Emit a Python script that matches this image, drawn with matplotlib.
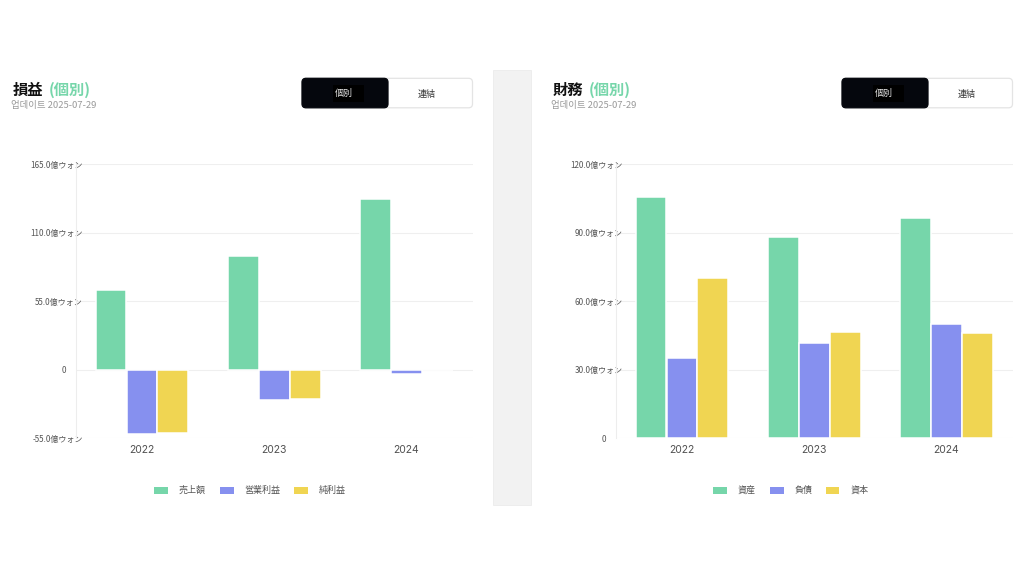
import matplotlib
matplotlib.use("Agg")
import matplotlib.pyplot as plt
from matplotlib.patches import FancyBboxPatch, Rectangle
import numpy as np

plt.rcParams['font.family'] = ['Inter', 'Noto Sans CJK JP', 'DejaVu Sans']

# ---------------- data ----------------
years = ['2022', '2023', '2024']

pl_names = ['売上額', '営業利益', '純利益']
sales = [64.2, 91.7, 137.2]
op_profit = [-51.6, -24.3, -3.2]
net_profit = [-50.5, -23.5, -0.4]
pl_ticks = [-55, 0, 55, 110, 165]

bs_names = ['資産', '負債', '資本']
assets = [105.8, 88.3, 96.3]
liabilities = [35.2, 41.7, 50.1]
equity = [70.4, 46.6, 46.2]
bs_ticks = [0, 30, 60, 90, 120]

titles = ['損益', '財務']
title_tag = '(個別)'
updated = '업데이트 2025-07-29'
toggle_labels = ['個別', '連結']
unit = '億ウォン'

# ---------------- style ----------------
colors = ['#76D6AA', '#8690EF', '#F0D552']
W, H = 1024, 576
fig = plt.figure(figsize=(W / 100, H / 100), dpi=100)
fig.patch.set_facecolor('white')

bg = fig.add_axes([0, 0, 1, 1], zorder=0)
bg.set_xlim(0, W)
bg.set_ylim(H, 0)
bg.axis('off')

# separator strip
bg.add_patch(Rectangle((493, 70), 38, 435, facecolor='#f2f2f2',
                       edgecolor='#ececec', lw=0.6))


def fmt(v):
    return '0\u3000\u3000' if v == 0 else f'{v:.1f}{unit}'


def panel(x0, title, names, series, ticks):
    # header
    bg.text(x0 + 13, 90, title, fontsize=11, fontweight='bold',
            color='#111111', va='center', ha='left',
            family=['Noto Sans CJK JP'])
    bg.text(x0 + 49, 90, title_tag, fontsize=11, fontweight='bold',
            color='#76D6AA', va='center', ha='left',
            family=['Noto Sans CJK JP'])
    bg.text(x0 + 11, 105.5, updated, fontsize=6.8, color='#9a9a9a',
            va='center', ha='left', family=['Noto Sans CJK KR'])
    # toggle
    bx = x0 + 302
    bg.add_patch(FancyBboxPatch((bx, 78.3), 170.5, 29.5,
                                boxstyle='round,pad=0,rounding_size=4',
                                facecolor='white', edgecolor='#e4e4e4', lw=0.9))
    bg.add_patch(FancyBboxPatch((bx, 78.3), 86, 29.5,
                                boxstyle='round,pad=0,rounding_size=4',
                                facecolor='#05070d', edgecolor='#05070d', lw=0.9))
    bg.add_patch(Rectangle((bx + 31, 85), 31, 17, facecolor='#000000', lw=0))
    bg.text(bx + 42, 93, toggle_labels[0], fontsize=6.5, color='#e6e6e6',
            va='center', ha='center', family=['Noto Sans CJK JP'])
    bg.text(bx + 125, 94, toggle_labels[1], fontsize=6.5, color='#333333',
            va='center', ha='center', family=['Noto Sans CJK JP'])

    # chart axes
    left = (x0 + 75.7) / W
    ax = fig.add_axes([left, 1 - 438.3 / H, 397 / W, (438.3 - 164.3) / H],
                      zorder=2)
    ax.set_facecolor('none')
    x = np.arange(len(years))
    offs = [-0.234, 0.0, 0.234]
    for vals, off, c, n in zip(series, offs, colors, names):
        ax.bar(x + off, vals, width=0.232, color=c, edgecolor='white',
               linewidth=1.1, label=n, zorder=3)
    ax.set_xlim(-0.5, len(years) - 0.5)
    ax.set_ylim(ticks[0], ticks[-1])
    ax.set_yticks(ticks, [fmt(v) for v in ticks])
    ax.set_xticks(x, years)
    ax.grid(axis='y', color='#efefef', lw=0.8, zorder=0)
    for s in ['top', 'right', 'bottom']:
        ax.spines[s].set_visible(False)
    ax.spines['left'].set_color('#ededed')
    ax.spines['left'].set_linewidth(0.8)
    ax.tick_params(axis='y', length=0, pad=-5.2, labelsize=5.8,
                   labelcolor='#555555')
    ax.tick_params(axis='x', length=0, pad=4.5, labelsize=7.5,
                   labelcolor='#505050')
    for lbl in ax.get_yticklabels():
        lbl.set_family(['Noto Sans CJK JP'])
    return ax


ax1 = panel(0, titles[0], pl_names, [sales, op_profit, net_profit], pl_ticks)
ax2 = panel(540, titles[1], bs_names, [assets, liabilities, equity], bs_ticks)

# legends
leg_pl_x = [154, 220, 294.3]
leg_bs_x = [713.3, 770, 825.7]
for xs, names in [(leg_pl_x, pl_names), (leg_bs_x, bs_names)]:
    for px, n, c in zip(xs, names, colors):
        bg.add_patch(Rectangle((px, 486.5), 13.5, 7.8, facecolor=c, lw=0))
        bg.text(px + 24.5, 490.5, n, fontsize=6.5, color='#555555',
                va='center', ha='left', family=['Noto Sans CJK JP'])

fig.savefig('out.png', dpi=100, facecolor='white')
